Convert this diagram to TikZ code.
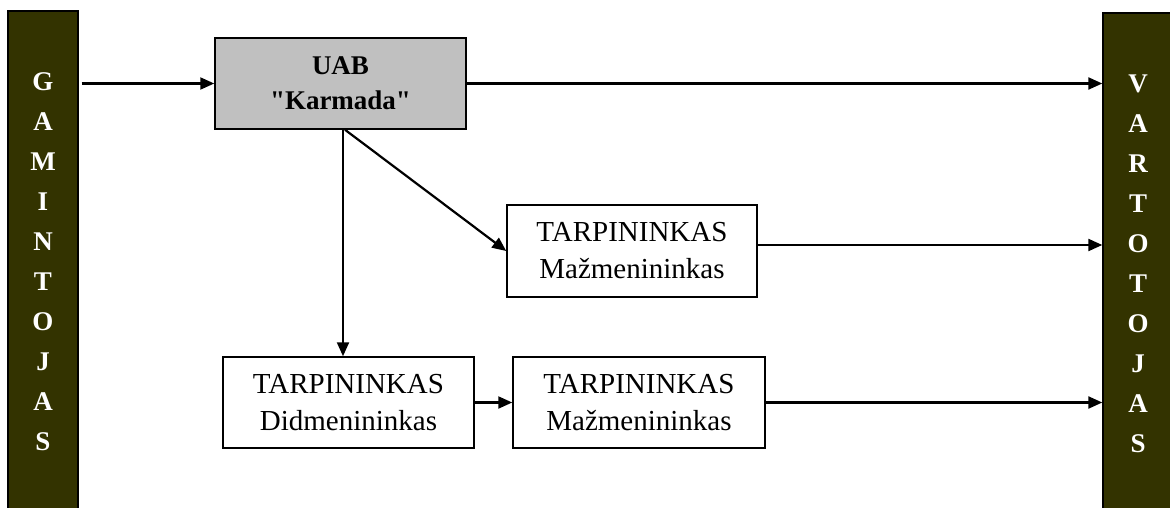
\documentclass[tikz,border=0pt]{standalone}
\usepackage{fontspec}
\setmainfont{Liberation Serif}[Ligatures=TeXOff]
\usetikzlibrary{arrows.meta}
\definecolor{barfill}{HTML}{333300}
\definecolor{boxgray}{HTML}{C0C0C0}
\begin{document}
\begin{tikzpicture}[x=1pt,y=-1pt,
  box/.style={draw=black, line width=1.5pt, rectangle, minimum width=251pt,
    minimum height=91pt, inner sep=0pt, align=center,
    font=\fontsize{29}{37}\selectfont},
  bar/.style={draw=black, line width=1.4pt, fill=barfill, text=white,
    minimum width=70pt, minimum height=501pt, inner sep=0pt, align=center,
    font=\fontsize{27}{40}\bfseries\selectfont},
  arr/.style={line width=2.2pt, -{Triangle[length=14pt,width=12pt]}}]
  \useasboundingbox (0,0) rectangle (1170,508);

  % producer and consumer bars
  \node[bar] (gam) at (43,261.5) {G\\A\\M\\I\\N\\T\\O\\J\\A\\S};
  \node[bar] (vart) at (1138,263.5) {V\\A\\R\\T\\O\\T\\O\\J\\A\\S};

  % company and intermediaries
  \node[box, fill=boxgray, font=\fontsize{27}{35}\bfseries\selectfont] (uab) at (340.5,83.5) {UAB\\"Karmada"};
  \node[box, minimum width=250pt, minimum height=92pt] (mid) at (632,251) {TARPININKAS\\Mažmenininkas};
  \node[box] (did) at (348.5,402.5) {TARPININKAS\\Didmenininkas};
  \node[box, minimum width=252pt] (maz) at (639,402.5) {TARPININKAS\\Mažmenininkas};

  % flows
  \draw[arr, shorten <=3pt] (uab.west -| gam.east) -- (uab.west);
  \draw[arr] (uab.east) -- (uab.east -| vart.west);
  \draw[arr] ([xshift=2.5pt]uab.south) -- ([xshift=2.5pt]uab.south |- did.north);
  \draw[arr] ([xshift=4.5pt]uab.south) -- (mid.west);
  \draw[arr] ([yshift=6pt]mid.east) -- ([yshift=6pt]mid.east -| vart.west);
  \draw[arr] (did.east) -- (maz.west);
  \draw[arr] (maz.east) -- (maz.east -| vart.west);
\end{tikzpicture}
\end{document}
